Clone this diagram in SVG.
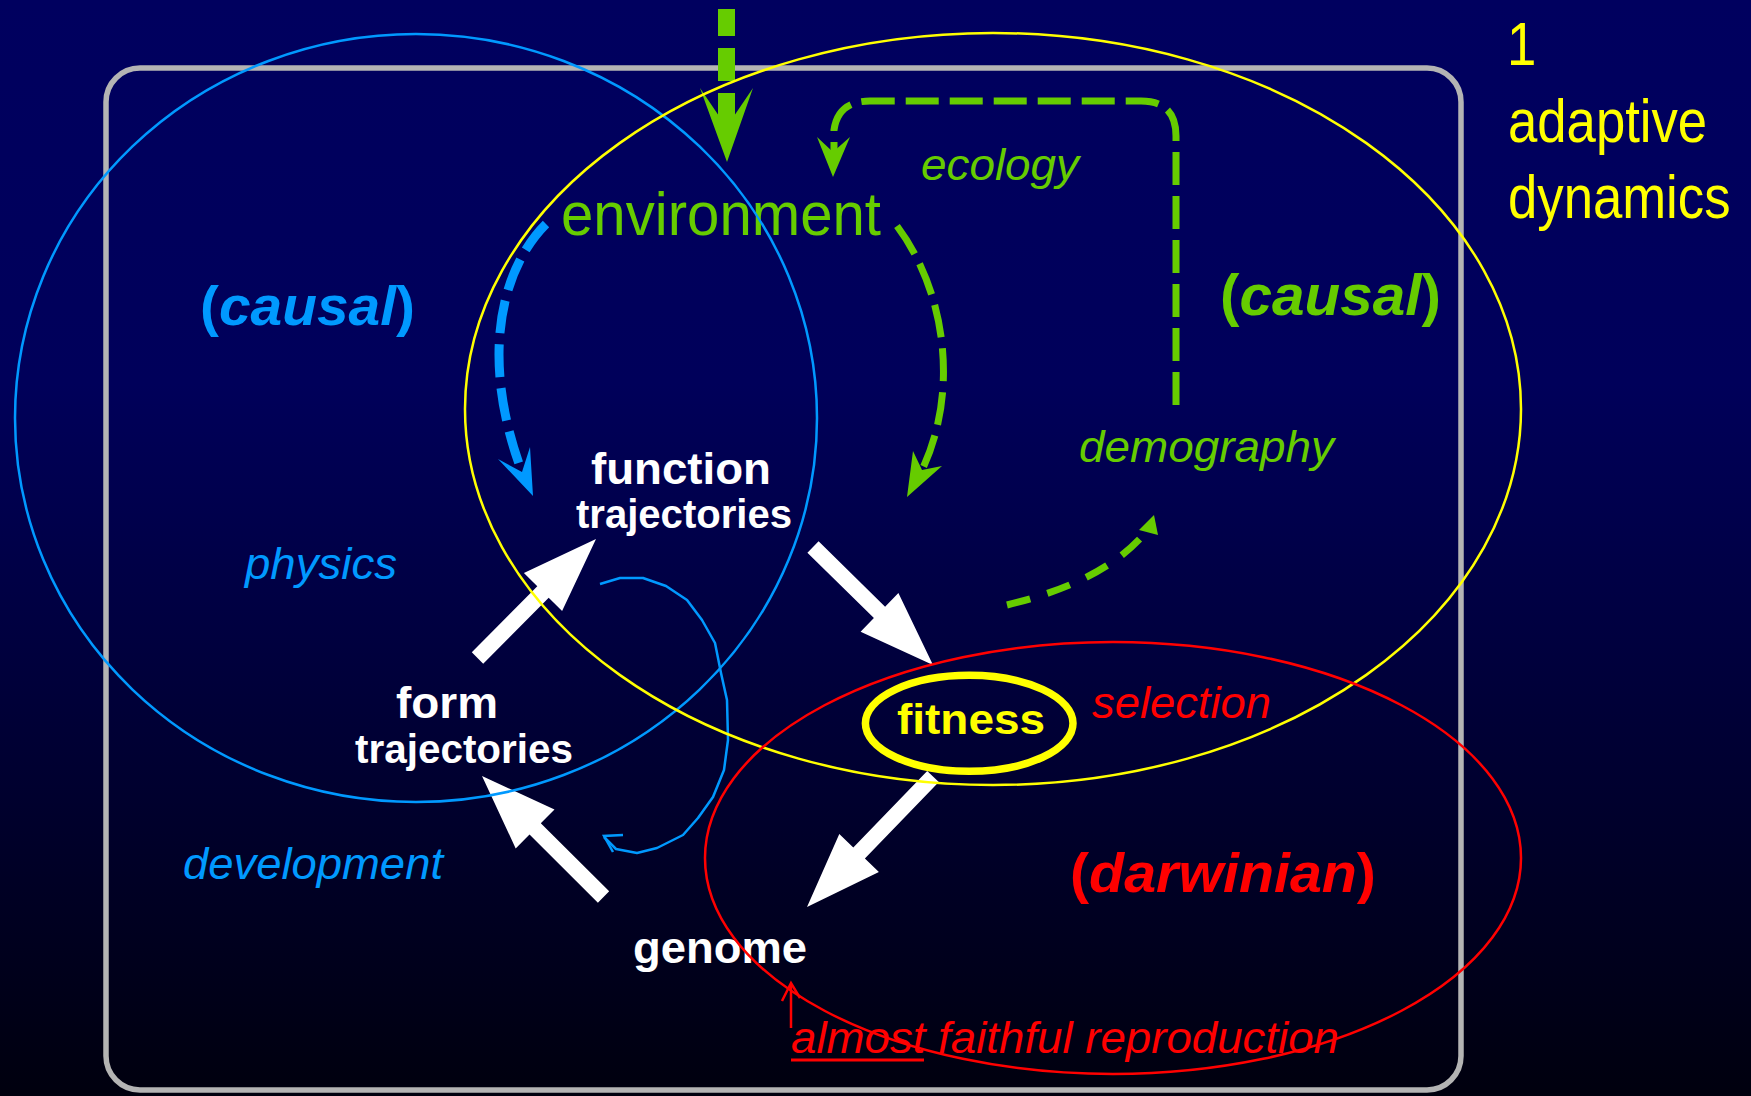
<svg xmlns="http://www.w3.org/2000/svg" width="1751" height="1096" viewBox="0 0 1751 1096">
<defs>
<linearGradient id="bg" x1="0" y1="0" x2="0" y2="1">
<stop offset="0" stop-color="#00005f"/>
<stop offset="0.35" stop-color="#00005a"/>
<stop offset="1" stop-color="#00000e"/>
</linearGradient>
<style>
text{font-family:"Liberation Sans",Arial,Helvetica,sans-serif}
.b{font-weight:bold}
.i{font-style:italic}
.white{fill:#ffffff}
.green{fill:#66cc00}
.blue{fill:#0099ff}
.red{fill:#ff0000}
.yellow{fill:#ffff00}
.region{fill:none;stroke-width:2.5}
.wa{fill:#ffffff}
.ga{fill:#66cc00}
.gd{fill:none;stroke:#66cc00;stroke-width:7}
</style>
</defs>
<rect x="0" y="0" width="1751" height="1096" fill="url(#bg)"/>
<rect id="frame" x="106" y="68" width="1355" height="1022" rx="34" ry="34" fill="none" stroke="#b4b4b4" stroke-width="5.5"/>

<g id="connectors">
  <g id="input-arrow" class="ga">
    <rect x="718" y="9" width="17" height="27"/>
    <rect x="718" y="48" width="17" height="33"/>
    <rect x="718" y="93" width="17" height="25"/>
    <polygon points="700,88 719,116 734,116 753,88 727,162"/>
  </g>
  <path class="gd" d="M1176,405 V136 Q1176,101 1141,101 H870 Q838,101 834,130 V152" stroke-dasharray="33 11"/>
  <polygon class="ga" points="817,137 833,152 850,137 833,177"/>
  <path d="M546,224 C500,270 480,360 522,472" fill="none" stroke="#0099ff" stroke-width="9" stroke-dasharray="33 11"/>
  <polygon fill="#0099ff" points="498,459 522,472 530,447 533,496"/>
  <path class="gd" d="M897,226 C945,290 960,390 922,470" stroke-dasharray="33 11"/>
  <polygon class="ga" points="913,451 922,470 942,466 907,497"/>
  <path class="gd" d="M1007,605 C1060,592 1112,572 1146,532" stroke-dasharray="24 18"/>
  <polygon class="ga" points="1154,515 1139,530 1158,535"/>
  <polyline points="600,584 620,578 643,578 666,586 687,600 702,620 715,643 721,673 727,700 728,740 724,770 713,797 698,818 683,835 657,848 637,853 616,849 604,837" fill="none" stroke="#0099ff" stroke-width="2.5" stroke-linejoin="round"/>
  <polyline points="623,835 604,836 613,852" fill="none" stroke="#0099ff" stroke-width="2.5"/>
  <polygon class="wa" points="471.8,652.3 537.3,586.3 523.9,572.9 596,539 562.1,611.1 548.7,597.7 483.2,663.7"/>
  <polygon class="wa" points="807.4,552.7 818.6,541.3 885.1,606.7 898.4,593.1 933,665 860.6,631.7 873.9,618.1"/>
  <polygon class="wa" points="927.2,770.9 938.8,782.1 864.9,858.6 878.9,872.1 807,907 839.3,833.9 853.3,847.4"/>
  <polygon class="wa" points="597.9,902.7 609.2,891.3 540.8,823.2 554.5,809.4 482,776 515.7,848.4 529.5,834.6"/>
  <line x1="791" y1="1028" x2="791" y2="984" stroke="#ff0000" stroke-width="2.5"/>
  <polyline points="782,1001 791,983 800,998" fill="none" stroke="#ff0000" stroke-width="2.5"/>
</g>

<g id="node-environment">
  <text class="green" x="561" y="235" font-size="61" textLength="320" lengthAdjust="spacingAndGlyphs">environment</text>
  <text class="green i" x="921" y="180" font-size="44" textLength="158" lengthAdjust="spacingAndGlyphs">ecology</text>
</g>
<g id="node-function">
  <text class="white b" x="591" y="484" font-size="44" textLength="180" lengthAdjust="spacingAndGlyphs">function</text>
  <text class="white b" x="576" y="528" font-size="40" textLength="216" lengthAdjust="spacingAndGlyphs">trajectories</text>
</g>
<g id="node-form">
  <text class="white b" x="396" y="718" font-size="44" textLength="102" lengthAdjust="spacingAndGlyphs">form</text>
  <text class="white b" x="355" y="763" font-size="40" textLength="218" lengthAdjust="spacingAndGlyphs">trajectories</text>
</g>
<g id="node-genome">
  <text class="white b" x="633" y="963" font-size="44" textLength="174" lengthAdjust="spacingAndGlyphs">genome</text>
</g>
<g id="node-fitness">
  <ellipse cx="969.2" cy="723.3" rx="103.8" ry="48" fill="none" stroke="#ffff00" stroke-width="7.5"/>
  <text class="yellow b" x="897" y="734" font-size="42" textLength="148" lengthAdjust="spacingAndGlyphs">fitness</text>
</g>

<g id="labels">
  <text class="blue b" x="200" y="325" font-size="56" textLength="215" lengthAdjust="spacingAndGlyphs">(<tspan class="i">causal</tspan>)</text>
  <text class="green b" x="1220" y="315" font-size="57" textLength="221" lengthAdjust="spacingAndGlyphs">(<tspan class="i">causal</tspan>)</text>
  <text class="red b" x="1070" y="892" font-size="56" textLength="306" lengthAdjust="spacingAndGlyphs">(<tspan class="i">darwinian</tspan>)</text>
  <text class="blue i" x="245" y="579" font-size="44" textLength="152" lengthAdjust="spacingAndGlyphs">physics</text>
  <text class="blue i" x="183" y="879" font-size="44" textLength="260" lengthAdjust="spacingAndGlyphs">development</text>
  <text class="green i" x="1079" y="462" font-size="44" textLength="255" lengthAdjust="spacingAndGlyphs">demography</text>
  <text class="red i" x="1092" y="718" font-size="44" textLength="179" lengthAdjust="spacingAndGlyphs">selection</text>
  <text class="red i" x="791" y="1053" font-size="44" textLength="548" lengthAdjust="spacingAndGlyphs">almost faithful reproduction</text>
  <line x1="791" y1="1060" x2="924" y2="1060" stroke="#ff0000" stroke-width="3"/>
</g>

<g id="title" class="yellow">
  <text transform="matrix(0.85 0 0 1 1507 65)" x="0" y="0" font-size="62">1</text>
  <text transform="matrix(0.85 0 0 1 1508 142)" x="0" y="0" font-size="62">adaptive</text>
  <text transform="matrix(0.85 0 0 1 1508 218)" x="0" y="0" font-size="62">dynamics</text>
</g>

<g id="regions">
  <ellipse id="region-causal-physics" class="region" cx="416" cy="418" rx="401" ry="384" stroke="#0099ff"/>
  <ellipse id="region-causal-ecology" class="region" cx="993" cy="409" rx="528" ry="376" stroke="#ffff00"/>
  <ellipse id="region-darwinian" class="region" cx="1113" cy="858" rx="408" ry="216" stroke="#ff0000"/>
</g>
</svg>
